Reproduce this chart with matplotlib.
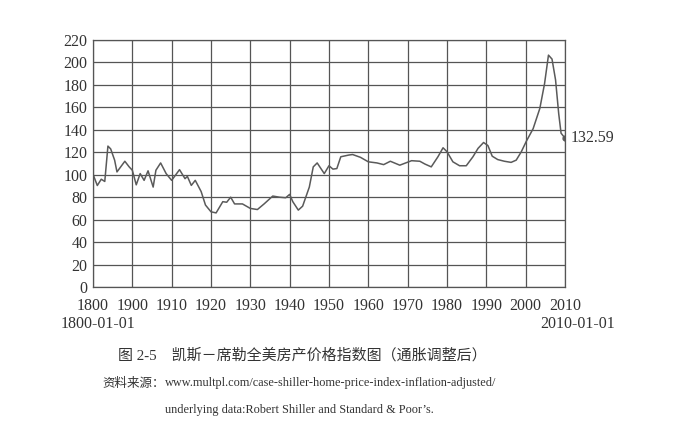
import numpy as np
import matplotlib.pyplot as plt

plt.rcParams['font.family'] = ['Liberation Serif', 'Noto Sans CJK SC', 'DejaVu Sans']

years = [1890, 1891.1, 1892.1, 1893, 1893.8, 1894.5, 1895.5, 1896.1, 1898.1, 1899.2,
         1900, 1901, 1902, 1903, 1904, 1905.3, 1906, 1907.2, 1908.6, 1910,
         1912, 1913.4, 1914, 1915, 1916, 1917.5, 1918.6, 1920, 1921.3, 1923,
         1924, 1925, 1926, 1928, 1930, 1931.8, 1933.5, 1935.7, 1937.4, 1939,
         1940, 1940.8, 1942.2, 1943.3, 1945, 1946, 1947, 1948.8, 1950, 1951,
         1952, 1953, 1955, 1956, 1958, 1960, 1962.2, 1963.9, 1965.6, 1968,
         1971, 1973.1, 1974.4, 1976, 1977.7, 1979, 1980, 1981.5, 1983.2, 1984.9,
         1986.6, 1987.9, 1989.3, 1990.4, 1991.5, 1992.9, 1994.6, 1996.3, 1997.6, 1998.9,
         2000.2, 2001.9, 2003.6, 2004.8, 2005.8, 2006.7, 2007.6, 2008.4, 2009, 2010]
index = [100.5, 90.4, 96, 94, 125.5, 123, 113, 102.5, 112, 107,
         104, 91, 101, 95, 103.5, 89, 104, 110.5, 101, 95,
         104.5, 96.5, 98.5, 90.5, 95, 85, 73, 67, 66, 76,
         75.5, 80, 74, 74, 70, 69, 74, 81, 80, 79.5,
         82.5, 76, 68.5, 72, 89, 107, 110.5, 101, 108, 105,
         105.5, 116, 117.5, 118, 115.5, 111.5, 110.5, 109, 112, 108.5,
         112.5, 112, 109.5, 107, 116, 124, 120.5, 111.5, 108, 108,
         116, 123.5, 128.7, 126, 116.5, 113.5, 112, 111, 113, 120.5,
         130, 141, 159, 181, 206.5, 203, 184.5, 154.5, 137, 132.59]

tick_pos = list(range(1890, 2011, 10))
tick_labels = ['1800', '1900', '1910', '1920', '1930', '1940', '1950',
               '1960', '1970', '1980', '1990', '2000', '2010']

fig = plt.figure(figsize=(6.97, 4.36), dpi=100)
ax = fig.add_axes([0.1334, 0.3417, 0.6772, 0.5666])

ax.plot(years, index, color='#5a5a5a', lw=1.1)
ax.plot(years[-1], index[-1], 'o', color='#5a5a5a', ms=3.5)
ax.text(years[-1] + 1.5, index[-1], '%.2f' % index[-1], va='center', ha='left',
        fontsize=11.5, color='#333333')

ax.set_xlim(1890, 2010)
ax.set_ylim(0, 220)
ax.set_xticks(tick_pos)
ax.set_xticklabels(tick_labels)
ax.set_yticks(np.arange(0, 221, 20))
ax.tick_params(length=0, labelsize=11.5, colors='#333333')
ax.tick_params(axis='x', pad=8)
ax.tick_params(axis='y', pad=4)
ax.grid(True, color='#555555', lw=0.9)
for s in ax.spines.values():
    s.set_color('#555555')
    s.set_linewidth(0.9)

fig.text(61 / 697, 1 - 324 / 436, '1800-01-01', fontsize=11.5, color='#333333', va='center')
fig.text(615 / 697, 1 - 324 / 436, '2010-01-01', fontsize=11.5, color='#333333',
         va='center', ha='right')

fig.text(118 / 697, 1 - 355 / 436, '图 2-5    凯斯－席勒全美房产价格指数图（通胀调整后）',
         fontsize=10.8, color='#333333', va='center',
         family=['Liberation Serif', 'Noto Sans CJK SC'])
fig.text(102 / 697, 1 - 383 / 436, '资料来源：', fontsize=9, color='#333333', va='center',
         family=['Noto Sans CJK SC'])
fig.text(165 / 697, 1 - 383 / 436,
         'www.multpl.com/case-shiller-home-price-index-inflation-adjusted/',
         fontsize=8.8, color='#333333', va='center')
fig.text(165 / 697, 1 - 410 / 436,
         'underlying data:Robert Shiller and Standard & Poor\u2019s.',
         fontsize=8.8, color='#333333', va='center')

fig.savefig('out.png', dpi=100)
